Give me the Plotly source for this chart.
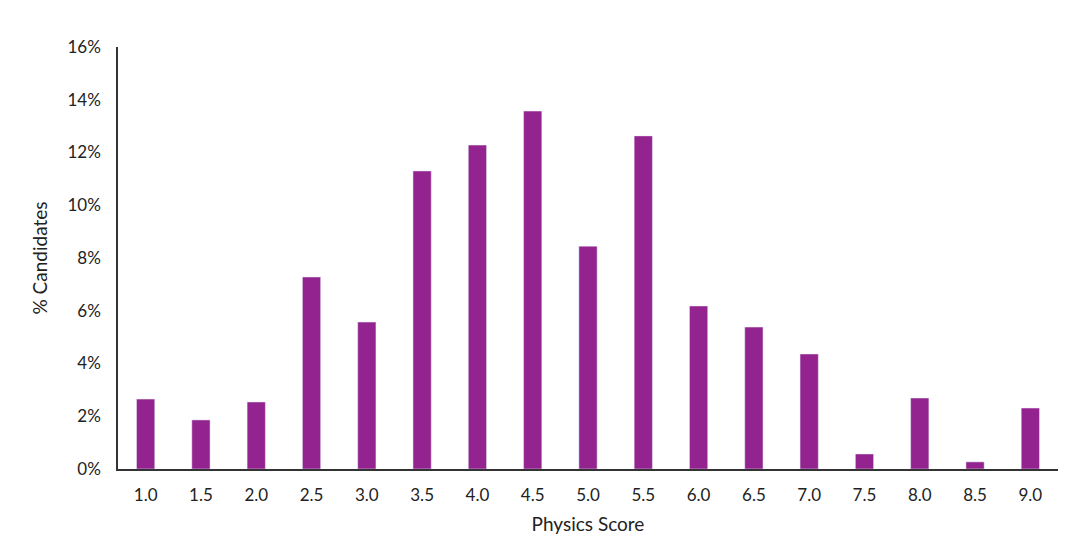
import plotly.graph_objects as go

scores = ["1.0","1.5","2.0","2.5","3.0","3.5","4.0","4.5","5.0","5.5","6.0","6.5","7.0","7.5","8.0","8.5","9.0"]
pct = [2.65,1.86,2.54,7.28,5.57,11.3,12.28,13.57,8.45,12.63,6.18,5.38,4.36,0.57,2.69,0.27,2.31]

fig = go.Figure(go.Bar(x=scores, y=[p/100 for p in pct], marker_color="#93238F", width=0.33))
fig.update_layout(
    width=1080, height=554, plot_bgcolor="white", paper_bgcolor="white",
    margin=dict(l=110, r=30, t=39, b=93, autoexpand=False),
    font=dict(family="Lato", size=17, color="#222"),
    showlegend=False,
)
fig.update_xaxes(type="category", showline=True, linecolor="#333", linewidth=1.5, automargin=False,
                 title_text="Physics Score", title_font_size=19, ticks="", ticklabelstandoff=10,
                 title_standoff=14)
fig.update_yaxes(range=[0,0.16], dtick=0.02, tickformat=".0%", showgrid=False, automargin=False,
                 showline=True, linecolor="#333", linewidth=1.5, zeroline=False,
                 title_text="% Candidates", title_font_size=19, ticks="", ticklabelstandoff=12)
fig.write_html("out.html")
